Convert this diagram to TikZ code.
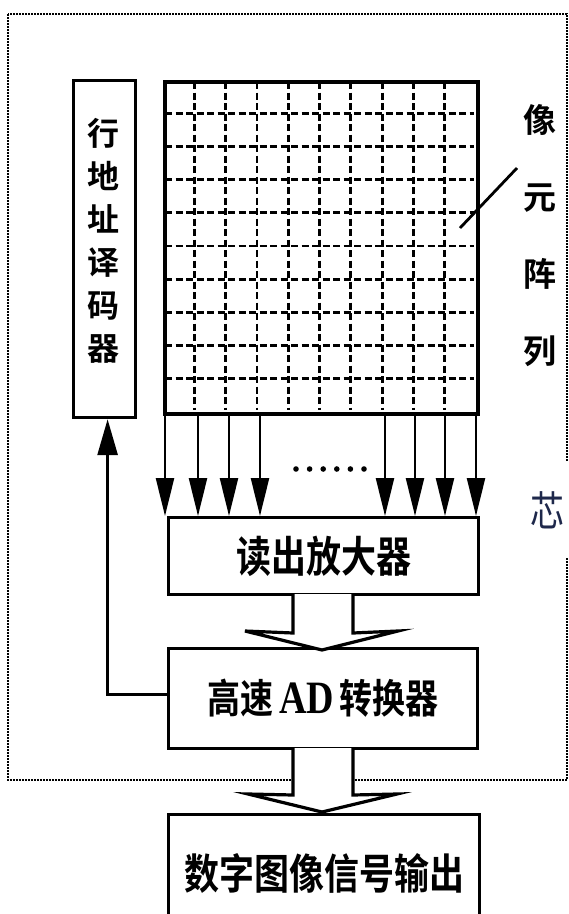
\documentclass[tikz,border=0pt]{standalone}
\usepackage{fontspec}
\usepackage{graphicx}
\newfontfamily\cjk{Noto Sans CJK SC}[BoldFont={Noto Sans CJK SC Bold}]
\newfontfamily\latb{Liberation Serif}
\usetikzlibrary{arrows.meta}
\definecolor{xincol}{RGB}{30,40,75}
\begin{document}
\begin{tikzpicture}[x=1pt,y=-1pt,
  box/.style={draw, line width=3.2pt, inner sep=0pt, anchor=north west},
  outerbox/.style={line width=2.6pt, dash pattern=on 1.8pt off 1.2pt},
  gridline/.style={line width=2.8pt, dash pattern=on 7pt off 3.5pt},
  colarrow/.style={line width=2.4pt, -{Triangle[length=38pt,width=18pt]}},
  blockarrow/.style={line width=3.2pt, fill=white, line join=miter},
  cjkbig/.style={font=\cjk\bfseries\fontsize{35}{35}\selectfont}
]
\clip (0,0) rectangle (569,914);
\fill[white] (0,0) rectangle (569,914);

% chip boundary
\draw[outerbox] (8,14) rectangle (567,780);

% row address decoder
\node[box, minimum width=62, minimum height=337] (dec) at (72,79) {};
\node[font=\cjk\bfseries\fontsize{32}{43}\selectfont, align=center] (dectext) at (103,241) {行\\地\\址\\译\\码\\器};

% pixel array
\node[box, line width=3.8pt, minimum width=313, minimum height=332] (arr) at (163,80) {};
\foreach \i in {1,...,9} {
  \draw[gridline] ({163+\i*31.3},82) -- ({163+\i*31.3},410);
  \draw[gridline] (165,{80+\i*33.2}) -- (474,{80+\i*33.2});
}

% label for pixel array
\node[font=\cjk\bfseries\fontsize{33}{77}\selectfont, align=center] (pxlabel) at (540,236) {像\\元\\阵\\列};
\coordinate (leadA) at (517,168);
\coordinate (leadB) at (460,228);
\draw[line width=2.8pt] (leadA) -- (leadB);

% readout amplifier
\node[box, minimum width=310, minimum height=77, cjkbig] (amp) at (167,516) {\scalebox{1}[1.22]{读出放大器}};

% column arrows
\foreach \x in {165,198,229,260,385,415,445,476}
  \draw[colarrow] (\x,0 |- arr.south) -- (\x,0 |- amp.north);
\foreach \k in {0,...,5}
  \fill ({296+\k*13.6},469) circle (2.8);

% chip label (partially visible)
\node[font=\cjk\fontsize{34}{34}\selectfont, text=xincol, fill=white, minimum height=96, minimum width=46, inner sep=0pt] (xin) at (547,510) {\scalebox{1}[1.22]{芯}};

% high speed AD converter
\node[box, minimum width=309, minimum height=100, font=\cjk\bfseries\fontsize{33}{33}\selectfont] (ad) at (167,647) {\raisebox{-6pt}{\scalebox{1}[1.22]{高速\,{\latb\bfseries\fontsize{38}{38}\selectfont AD}\,转换器}}};

% block arrow amp -> ad
\draw[blockarrow] (293,594) -- (293,633) -- (245,631) -- (322,650) -- (398,631) -- (353,633) -- (353,594);

% output box
\node[box, minimum width=311, minimum height=118, cjkbig] (out) at (167,813) {\scalebox{1}[1.2]{数字图像信号输出}};

% block arrow ad -> out
\draw[blockarrow] (293,748) -- (293,795) -- (248,794) -- (322,812) -- (397,794) -- (353,795) -- (353,748);

% feedback to decoder
\draw[line width=2.8pt, -{Triangle[length=36pt,width=20pt]}] ([yshift=4pt]ad.west) -| ([xshift=3pt]dec.south);
\end{tikzpicture}
\end{document}
